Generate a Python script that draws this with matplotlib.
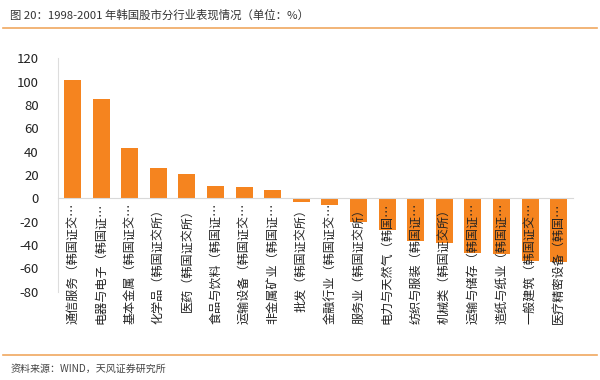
import matplotlib
matplotlib.use("Agg")
import matplotlib.pyplot as plt
from matplotlib.lines import Line2D

plt.rcParams['font.family'] = ['Noto Sans CJK SC', 'DejaVu Sans']

# 데이터
labels = [
    "通信服务（韩国证交…", "电器与电子（韩国证…", "基本金属（韩国证交…",
    "化学品（韩国证交所）", "医药（韩国证交所）", "食品与饮料（韩国证…",
    "运输设备（韩国证交…", "非金属矿业（韩国证…", "批发（韩国证交所）",
    "金融行业（韩国证交…", "服务业（韩国证交所）", "电力与天然气（韩国…",
    "纺织与服装（韩国证…", "机械类（韩国证交所）", "运输与储存（韩国证…",
    "造纸与纸业（韩国证…", "一般建筑（韩国证交…", "医疗精密设备（韩国…",
]
values = [101, 85, 43, 26, 20.5, 10.5, 9.8, 7.2, -3, -6, -20, -27.5,
          -36.5, -38.5, -47, -47.5, -53.5, -54.5]
yticks = [-80, -60, -40, -20, 0, 20, 40, 60, 80, 100, 120]

BAR = "#F5841F"
LINE = "#F0A860"

fig = plt.figure(figsize=(6, 3.8), dpi=100)
ax = fig.add_axes([0.097, 0.232, 0.858, 0.615])

x = list(range(len(values)))
ax.bar(x, values, width=0.6, color=BAR, zorder=1)
ax.set_axisbelow(False)  # 라벨이 막대 위에 보이도록

ax.set_xlim(-0.5, len(values) - 0.5)
ax.set_ylim(-80, 120)
ax.set_yticks(yticks)
ax.set_yticklabels([str(t) for t in yticks], fontsize=9.5, color="#222222")
ax.tick_params(axis='y', length=0, pad=14)

# x축 라벨은 0 위치에 붙임
ax.spines['bottom'].set_position(('data', 0))
ax.spines['bottom'].set_color("#D9D9D9")
ax.set_xticks(x)
ax.set_xticklabels(labels, rotation=90, fontsize=8.7, color="#222222")
ax.tick_params(axis='x', length=0, pad=3)

for s in ['top', 'right']:
    ax.spines[s].set_visible(False)
ax.spines['left'].set_color("#DDDDDD")

# 제목과 출처
fig.text(0.017, 0.96, "图 20：1998-2001 年韩国股市分行业表现情况（单位：%）",
         fontsize=8.2, color="#333333", va='center')
fig.add_artist(Line2D([0.005, 0.995], [0.926, 0.926], color=LINE, linewidth=1.2))
fig.add_artist(Line2D([0.005, 0.995], [0.066, 0.066], color=LINE, linewidth=1.2))
fig.text(0.017, 0.029, "资料来源：WIND，天风证券研究所",
         fontsize=7.2, color="#444444", va='center')

fig.savefig("out.png", dpi=100)
